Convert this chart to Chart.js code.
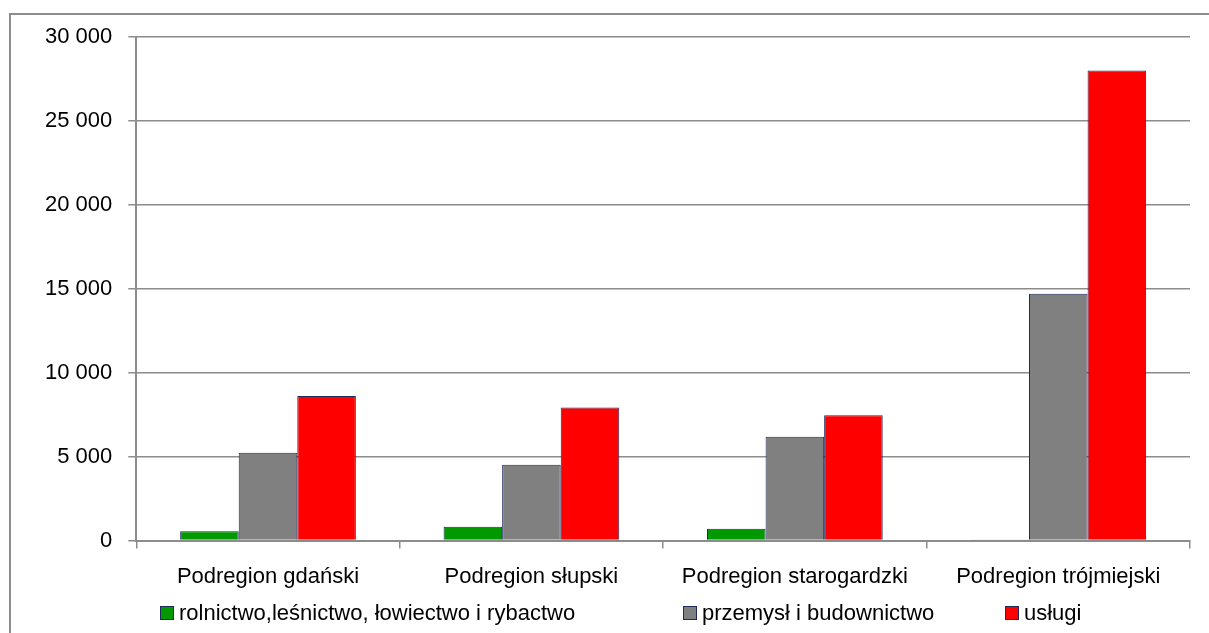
<!DOCTYPE html>
<html>
<head>
<meta charset="utf-8">
<script src="https://cdn.jsdelivr.net/npm/chart.js@4/dist/chart.umd.min.js"></script>
<style>
  html, body { margin: 0; padding: 0; background: #fff; overflow: hidden; }
  #frame {
    position: absolute; left: 9px; top: 13px; width: 1300px; height: 700px;
    border-left: 2px solid #8c8c8c; border-top: 2px solid #8c8c8c;
  }
  #wrap { position: absolute; left: 0; top: 0; width: 1209px; height: 633px; }
  #legend { position: absolute; left: 0; top: 598px; width: 1209px; height: 30px;
    font-family: 'Liberation Sans', Arial, sans-serif; font-size: 22px; color: #000; }
  #legend .item { position: absolute; top: 0; display: flex; align-items: center; height: 30px; white-space: nowrap; }
  #legend .box { width: 12px; height: 12px; border: 1px solid #1f2a5c; margin-right: 5px; }
</style>
</head>
<body>
<div id="frame"></div>
<div id="wrap"><canvas id="chart"></canvas></div>
<div id="legend"></div>
<script>
// categories and series
const regions = ["Podregion gdański", "Podregion słupski", "Podregion starogardzki", "Podregion trójmiejski"];
const seriesNames = ["rolnictwo,leśnictwo, łowiectwo i rybactwo", "przemysł i budownictwo", "usługi"];
const rolnictwo = [560, 820, 700, 40];
const przemysl = [5240, 4520, 6190, 14700];
const uslugi = [8620, 7930, 7470, 28000];
const yMax = 30000;
const yStep = 5000;

const font = "'Liberation Sans', Arial, sans-serif";
const gridColor = "#8c8c8c";
const edge = "#1f2a5c";
const legendLeft = [160, 683, 1005];

function fmt(v) {
  return String(v).replace(/\B(?=(\d{3})+(?!\d))/g, " ");
}

document.addEventListener("DOMContentLoaded", function () {
  const ctx = document.getElementById("chart").getContext("2d");
  const chart = new Chart(ctx, {
    type: "bar",
    data: {
      labels: regions,
      datasets: [
        { label: seriesNames[0], data: rolnictwo,
          backgroundColor: "#009900", borderColor: edge, borderWidth: 1 },
        { label: seriesNames[1], data: przemysl,
          backgroundColor: "#808080", borderColor: edge, borderWidth: 1 },
        { label: seriesNames[2], data: uslugi,
          backgroundColor: "#ff0000", borderColor: edge, borderWidth: 1 },
      ],
    },
    options: {
      responsive: true,
      maintainAspectRatio: false,
      animation: false,
      layout: { padding: { left: 29, right: 19, top: 37, bottom: 28 } },
      datasets: { bar: { barPercentage: 1, categoryPercentage: 0.667 } },
      scales: {
        x: {
          grid: { offset: true, drawOnChartArea: false, color: gridColor, lineWidth: 1.5, tickLength: 8 },
          border: { color: gridColor, width: 2 },
          ticks: { color: "#000", padding: 15, font: { family: font, size: 22 } },
        },
        y: {
          min: 0, max: yMax,
          grid: { color: gridColor, lineWidth: 1.5, tickLength: 8 },
          border: { color: gridColor, width: 2 },
          ticks: { stepSize: yStep, color: "#000", padding: 16,
                   font: { family: font, size: 22 }, callback: fmt },
        },
      },
      plugins: {
        legend: { display: false },
        tooltip: { enabled: false },
      },
    },
  });

  // legend row under the chart, spaced like the original
  const legend = document.getElementById("legend");
  chart.data.datasets.forEach((ds, i) => {
    const item = document.createElement("div");
    item.className = "item";
    item.style.left = legendLeft[i] + "px";
    const box = document.createElement("span");
    box.className = "box";
    box.style.background = ds.backgroundColor;
    item.appendChild(box);
    item.appendChild(document.createTextNode(ds.label));
    legend.appendChild(item);
  });
});
</script>
</body>
</html>
